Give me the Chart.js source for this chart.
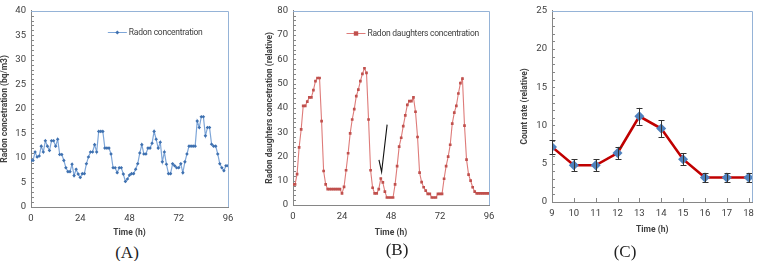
<!DOCTYPE html>
<html>
<head>
<meta charset="utf-8">
<script src="https://cdn.jsdelivr.net/npm/chart.js@4.4.1/dist/chart.umd.min.js"></script>
<style>
    html, body { margin: 0; padding: 0; background: #fff; }
    body { width: 760px; height: 261px; position: relative; overflow: hidden; }
    .panel { position: absolute; top: 0; height: 242px; }
    .cap { position: absolute; font-family: "Liberation Serif", serif; font-size: 17px; line-height: 20px; color: #222; transform: translateX(-50%); }
</style>
</head>
<body>
<div class="panel" style="left:0;width:250px"><canvas id="chartA" width="250" height="242"></canvas></div>
<div class="panel" style="left:250px;width:260px"><canvas id="chartB" width="260" height="242"></canvas></div>
<div class="panel" style="left:510px;width:250px"><canvas id="chartC" width="250" height="242"></canvas></div>
<div class="cap" style="left:127px;top:243px">(A)</div>
<div class="cap" style="left:397px;top:240px">(B)</div>
<div class="cap" style="left:625px;top:242px">(C)</div>
<script>
// hourly samples, 0..96 h
const hours = Array.from({ length: 97 }, (_, i) => i);
const timeTicks = [0, 24, 48, 72, 96];

const radonConc = [
    9.5, 9.5, 11.2, 10.2, 10.4, 12.4, 11.2, 13.5, 12.4, 11.5, 13.5, 13.5, 12.4, 13.8, 10.7, 10.7,
    9.5, 8, 7.2, 7.2, 8.7, 6.4, 7.7, 6.7, 6, 6.8, 6.8, 8.8, 10.2, 11.2, 11.2, 12.7,
    11.2, 15.4, 15.4, 15.4, 12, 12, 12, 10.8, 8, 8, 7, 8, 8, 6.7, 5.2, 5.7,
    6.5, 6.8, 6.8, 7.7, 8.8, 11, 12.7, 10.8, 10.8, 12, 12, 13, 15.4, 13.8, 12, 13.2,
    9.2, 11.2, 8.7, 6.8, 6.8, 8.8, 8.4, 8, 8, 8.8, 7, 9.2, 10.8, 12.4, 12.4, 12.4,
    12.4, 17.5, 16.2, 18.4, 18.4, 14.5, 16.2, 16.2, 12.8, 12.4, 12.4, 10.8, 8.8, 8, 7.4, 8.4,
    8.4
];

const daughtersConc = [
    8.5, 8.5, 12.7, 23.7, 31.1, 40.8, 40.8, 42.6, 44.3, 44.3, 47.3, 51, 52.3, 52.3, 34.5, 14,
    8.5, 6.5, 6.5, 6.5, 6.5, 6.5, 6.5, 6.5, 4.8, 7.5, 14.3, 21.3, 29.5, 35.2, 39.5, 44.8,
    47.5, 51, 54, 56.3, 54.4, 35.2, 14.3, 7.1, 4.8, 4.8, 6.5, 10.9, 9.3, 5.5, 3.1, 3.1,
    3.1, 3.1, 8.5, 16, 24, 27.7, 32.5, 36.9, 41.2, 42.8, 42.8, 44.3, 38.4, 28, 13.3, 9.4,
    7.3, 5.9, 4.6, 4.6, 3.1, 3.1, 3.1, 4.6, 4.6, 4.6, 10.8, 16, 19.9, 24.8, 33.5, 38,
    40.8, 45.9, 50.2, 52, 32.7, 18.7, 12.5, 10, 7.3, 5.5, 4.8, 4.8, 4.8, 4.8, 4.8, 4.8,
    4.8
];

// arrow annotation in panel B, in data units: [tail, tip, barb]
const arrowB = [[46.1, 33.1], [43.4, 13.6], [42.1, 18.6]];

const countHours = [9, 10, 11, 12, 13, 14, 15, 16, 17, 18];
const countRate = [7.2, 4.8, 4.8, 6.4, 11.2, 9.6, 5.6, 3.2, 3.2, 3.2];
const countErr = [0.9, 0.8, 0.8, 0.8, 1.1, 1.1, 0.8, 0.6, 0.6, 0.6];

const FONT = 'Roboto, "Liberation Sans", sans-serif';
const tickFont = { family: FONT, size: 9.5 };
const titleFont = { family: FONT, size: 8.5, weight: 'bold' };
const axisGray = '#868686';
const textGray = '#404040';
const frameBlue = '#95b3d7';

function drawMarker(ctx, style, x, y, r, color) {
    ctx.fillStyle = color;
    ctx.beginPath();
    if (style === 'rect') {
        ctx.rect(x - r, y - r, 2 * r, 2 * r);
    } else {
        ctx.moveTo(x, y - r); ctx.lineTo(x + r, y); ctx.lineTo(x, y + r); ctx.lineTo(x - r, y); ctx.closePath();
    }
    ctx.fill();
}

const framePlugin = {
    id: 'frame',
    beforeDatasetsDraw(chart, args, opts) {
        const { ctx, chartArea: a, scales: { x, y } } = chart;
        ctx.save();
        ctx.strokeStyle = axisGray;
        ctx.lineWidth = 1;
        ctx.beginPath();
        for (let v = y.min + opts.yMinor; v <= y.max + 1e-6; v += opts.yMinor) {
            const py = Math.round(y.getPixelForValue(v)) + 0.5;
            ctx.moveTo(a.left, py); ctx.lineTo(a.left + 3, py);
        }
        if (opts.xTicks) {
            opts.xTicks.forEach(v => {
                const px = Math.round(x.getPixelForValue(v)) + 0.5;
                ctx.moveTo(px, a.bottom); ctx.lineTo(px, a.bottom - 4);
            });
        }
        ctx.stroke();
        ctx.restore();
    },
    afterDatasetsDraw(chart, args, opts) {
        const { ctx, chartArea: a, scales: { x, y } } = chart;
        ctx.save();

        // error bars
        if (opts.errors) {
            ctx.strokeStyle = '#333';
            ctx.lineWidth = 1;
            ctx.beginPath();
            opts.errors.forEach((e, i) => {
                const px = Math.round(x.getPixelForValue(countHours[i])) + 0.5;
                const hi = y.getPixelForValue(countRate[i] + e);
                const lo = y.getPixelForValue(countRate[i] - e);
                ctx.moveTo(px, hi); ctx.lineTo(px, lo);
                ctx.moveTo(px - 3, Math.round(hi) + 0.5); ctx.lineTo(px + 3, Math.round(hi) + 0.5);
                ctx.moveTo(px - 3, Math.round(lo) + 0.5); ctx.lineTo(px + 3, Math.round(lo) + 0.5);
            });
            ctx.stroke();
        }

        // arrow
        if (opts.arrow) {
            const p = opts.arrow.map(([vx, vy]) => [x.getPixelForValue(vx), y.getPixelForValue(vy)]);
            ctx.strokeStyle = '#111';
            ctx.lineWidth = 1.1;
            ctx.beginPath();
            ctx.moveTo(p[0][0], p[0][1]); ctx.lineTo(p[1][0], p[1][1]); ctx.lineTo(p[2][0], p[2][1]);
            ctx.stroke();
        }

        // plot area frame (top and right)
        ctx.strokeStyle = frameBlue;
        ctx.lineWidth = 1;
        ctx.beginPath();
        const rx = Math.round(a.right) + 0.5;
        ctx.moveTo(a.left, Math.round(a.top) + 0.5);
        ctx.lineTo(rx, Math.round(a.top) + 0.5);
        ctx.lineTo(rx, a.bottom);
        ctx.stroke();

        // legend inside plot area
        if (opts.legend) {
            const L = opts.legend;
            const lx = a.left + L.fx * (a.right - a.left);
            const ly = Math.round(a.top + L.fy * (a.bottom - a.top)) + 0.5;
            ctx.strokeStyle = L.line;
            ctx.lineWidth = 1;
            ctx.beginPath(); ctx.moveTo(lx, ly); ctx.lineTo(lx + 19, ly); ctx.stroke();
            drawMarker(ctx, L.style, lx + 9.5, ly, L.radius, L.marker);
            ctx.fillStyle = textGray;
            ctx.font = '8.5px ' + FONT;
            ctx.letterSpacing = '-0.25px';
            ctx.textBaseline = 'middle';
            ctx.fillText(L.text, lx + 21, ly);
        }
        ctx.restore();
    }
};

function axisX(min, max, ticks, height, titlePad) {
    return {
        type: 'linear', min, max,
        afterBuildTicks: s => { s.ticks = ticks.map(v => ({ value: v })); },
        afterFit: s => { s.height = height; },
        grid: { display: false, drawTicks: false },
        border: { color: axisGray },
        ticks: { font: tickFont, color: textGray, padding: 6, maxRotation: 0, autoSkip: false },
        title: { display: true, text: 'Time (h)', font: titleFont, color: textGray, padding: { top: 0, bottom: titlePad } }
    };
}

function axisY(max, step, width, text, titlePad) {
    return {
        min: 0, max,
        afterFit: s => { s.width = width; },
        grid: { display: false, drawTicks: false },
        border: { color: axisGray },
        ticks: { stepSize: step, font: tickFont, color: textGray, padding: 5 },
        title: { display: true, text, font: titleFont, color: textGray, padding: { top: titlePad, bottom: 0 } }
    };
}

const common = {
    responsive: false,
    animation: false,
    devicePixelRatio: 1,
    plugins: { legend: { display: false }, tooltip: { enabled: false } }
};

new Chart(document.getElementById('chartA'), {
    type: 'line',
    data: {
        datasets: [{
            data: hours.map((h, i) => ({ x: h, y: radonConc[i] })),
            borderColor: '#7ea6d8',
            borderWidth: 1.2,
            pointStyle: 'rectRot',
            pointRadius: 1.8,
            pointBackgroundColor: '#3f71b0',
            pointBorderWidth: 0,
            tension: 0
        }]
    },
    options: {
        ...common,
        layout: { padding: { top: 7, right: 22, left: 0, bottom: 0 } },
        scales: {
            x: axisX(0, 96, timeTicks, 35, 4),
            y: axisY(40, 5, 31, 'Radon concetration (bq/m3)', 0)
        },
        plugins: {
            ...common.plugins,
            frame: {
                yMinor: 1,
                legend: { fx: 0.39, fy: 0.11, text: 'Radon concentration', line: '#7ea6d8', marker: '#3f71b0', style: 'rectRot', radius: 2 }
            }
        }
    },
    plugins: [framePlugin]
});

new Chart(document.getElementById('chartB'), {
    type: 'line',
    data: {
        datasets: [{
            data: hours.map((h, i) => ({ x: h, y: daughtersConc[i] })),
            borderColor: '#de7b79',
            borderWidth: 1.1,
            pointStyle: 'rect',
            pointRadius: 1.9,
            pointBackgroundColor: '#c0504d',
            pointBorderWidth: 0,
            tension: 0
        }]
    },
    options: {
        ...common,
        layout: { padding: { top: 7, right: 21, left: 0, bottom: 0 } },
        scales: {
            x: axisX(0, 96, timeTicks, 37, 4),
            y: axisY(80, 10, 43, 'Radon daughters concetration (relative)', 15)
        },
        plugins: {
            ...common.plugins,
            frame: {
                yMinor: 2,
                arrow: arrowB,
                legend: { fx: 0.273, fy: 0.116, text: 'Radon daughters concentration', line: '#de7b79', marker: '#c0504d', style: 'rect', radius: 2.2 }
            }
        }
    },
    plugins: [framePlugin]
});

new Chart(document.getElementById('chartC'), {
    type: 'line',
    data: {
        datasets: [{
            data: countHours.map((h, i) => ({ x: h, y: countRate[i] })),
            borderColor: '#c00000',
            borderWidth: 2.6,
            pointStyle: 'rectRot',
            pointRadius: 5,
            pointBackgroundColor: '#4f81bd',
            pointBorderWidth: 0,
            tension: 0
        }]
    },
    options: {
        ...common,
        layout: { padding: { top: 4, right: 2, left: 0, bottom: 0 } },
        scales: {
            x: axisX(9, 18.18, countHours, 40, 7),
            y: axisY(25, 5, 42, 'Count rate (relative)', 10)
        },
        plugins: {
            ...common.plugins,
            frame: { yMinor: 1, xTicks: countHours, errors: countErr }
        }
    },
    plugins: [framePlugin]
});
</script>
</body>
</html>
